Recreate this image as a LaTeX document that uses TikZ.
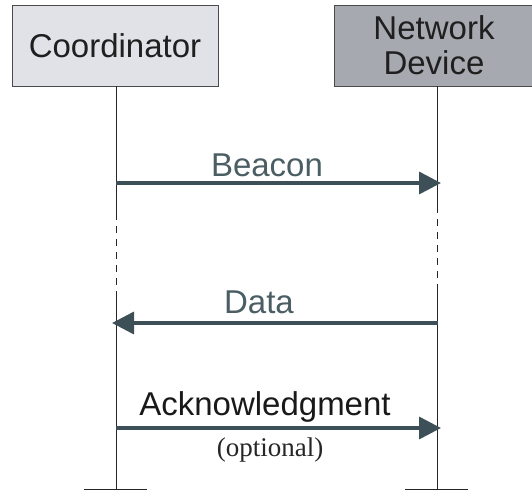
\documentclass[tikz,border=0pt]{standalone}
\usepackage{fontspec}
\setmainfont{Liberation Sans}
\newfontfamily\serifft{Liberation Serif}
\usetikzlibrary{arrows.meta}
\definecolor{arrowcol}{HTML}{3E5057}
\definecolor{labelcol}{HTML}{4A5E64}
\definecolor{coordfill}{HTML}{E0E2E7}
\definecolor{devfill}{HTML}{A6A9AF}
\definecolor{boxline}{HTML}{4A4A4A}
\tikzset{
  actor/.style={draw=boxline, line width=0.9pt, inner sep=0pt, font=\fontsize{33}{35}\selectfont, text=black!88, align=center},
  life/.style={line width=0.8pt, draw=black!85},
  lifedash/.style={line width=0.8pt, draw=black!85, dash pattern=on 7pt off 6pt},
  msg/.style={line width=3.5pt, draw=arrowcol, -{Triangle[length=22pt,width=22pt]}, shorten >=-1pt},
  msglabel/.style={font=\fontsize{33}{35}\selectfont, text=labelcol},
  tick/.style={line width=0.9pt, draw=black!85}
}
\begin{document}
\begin{tikzpicture}[x=1pt,y=-1pt]
\useasboundingbox (0,0) rectangle (532,493);
\node[actor, fill=coordfill, minimum width=206pt, minimum height=81pt] (coord) at (115,45.5) {Coordinator};
\node[actor, fill=devfill, minimum width=200pt, minimum height=81pt] (dev) at (434,45.5) {Network\\Device};
% lifelines
\coordinate (c1) at (116,86);
\coordinate (c2) at (116,213);
\coordinate (c3) at (116,291);
\coordinate (c4) at (116,489);
\coordinate (d1) at (437,86);
\coordinate (d2) at (437,206);
\coordinate (d3) at (437,289);
\coordinate (d4) at (437,489);
\draw[life] (c1) -- (c2);
\draw[lifedash] (c2) -- (c3);
\draw[life] (c3) -- (c4);
\draw[life] (d1) -- (d2);
\draw[lifedash] (d2) -- (d3);
\draw[life] (d3) -- (d4);
% ticks
\coordinate (tl1) at (84,489);
\coordinate (tl2) at (147,489);
\coordinate (tr1) at (405,489);
\coordinate (tr2) at (468,489);
\draw[tick] (tl1) -- (tl2);
\draw[tick] (tr1) -- (tr2);
% messages
\coordinate (b1) at (116,183);
\coordinate (b2) at (440,183);
\draw[msg] (b1) -- (b2);
\node[msglabel] (beacon) at (267,165) {Beacon};
\coordinate (a1) at (438,323);
\coordinate (a2) at (113,323);
\draw[msg] (a1) -- (a2);
\node[msglabel] (data) at (259,302) {Data};
\coordinate (k1) at (116,428);
\coordinate (k2) at (440,428);
\draw[msg] (k1) -- (k2);
\node[msglabel, text=black!90] (ack) at (265,407) {Acknowledgment};
\node[font=\serifft\fontsize{27}{29}\selectfont, text=black!85] (opt) at (270,450) {(optional)};
\end{tikzpicture}
\end{document}
